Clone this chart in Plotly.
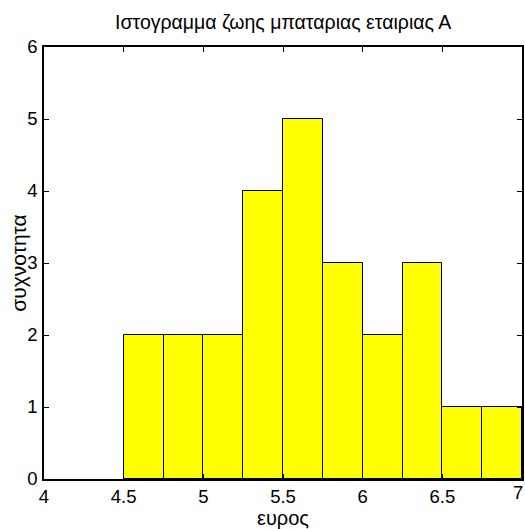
import plotly.graph_objects as go

bin_centers = [4.625, 4.875, 5.125, 5.375, 5.625, 5.875, 6.125, 6.375, 6.625, 6.875]
counts = [2, 2, 2, 4, 5, 3, 2, 3, 1, 1]
bin_width = 0.25
x_ticks = [4, 4.5, 5, 5.5, 6, 6.5, 7]
x_tick_text = ["4", "4.5", "5", "5.5", "6", "6.5", "7"]
y_ticks = [0, 1, 2, 3, 4, 5, 6]

FONT = "Liberation Sans, Arial"
TICK_SIZE = 18.5

fig = go.Figure(go.Bar(
    x=bin_centers, y=counts, width=bin_width,
    marker=dict(color="#ffff00", line=dict(color="black", width=1)),
))

axis_common = dict(showline=True, linecolor="black", linewidth=1.5, mirror="ticks",
                   ticks="inside", ticklen=5, tickcolor="black", tickwidth=1, showgrid=False,
                   zeroline=False, automargin=False,
                   tickfont=dict(family=FONT, size=TICK_SIZE, color="black"))

annotations = [
    dict(text="Ιστογραμμα ζωης μπαταριας εταιριας Α", xref="paper", yref="paper",
         x=0.50, y=1.058, xanchor="center", yanchor="middle", showarrow=False,
         font=dict(family=FONT, size=19.5, color="black")),
    dict(text="ευρος", xref="paper", yref="paper",
         x=0.50, y=-0.090, xanchor="center", yanchor="middle", showarrow=False,
         font=dict(family=FONT, size=20, color="black")),
    dict(text="συχνοτητα", xref="paper", yref="paper", textangle=-90,
         x=-0.055, y=0.5, xanchor="center", yanchor="middle", showarrow=False,
         font=dict(family=FONT, size=21, color="black")),
    # last x tick label (plotly drops it because it overflows the figure edge)
    dict(text=x_tick_text[-1], x=x_ticks[-1], xref="x", y=0, yref="paper",
         xanchor="right", yanchor="top", xshift=3, yshift=-1, showarrow=False,
         font=dict(family=FONT, size=TICK_SIZE, color="black")),
]

fig.update_layout(
    width=525, height=529,
    margin=dict(l=44, r=3, t=47, b=50),
    plot_bgcolor="white", paper_bgcolor="white",
    showlegend=False,
    xaxis=dict(range=[4, 7], tickvals=x_ticks, ticktext=x_tick_text, ticklabelstandoff=0,
               **axis_common),
    yaxis=dict(range=[0, 6], tickvals=y_ticks, ticklabelstandoff=1,
               **axis_common),
    bargap=0,
    annotations=annotations,
)

fig.write_html("out.html", config={"displayModeBar": False},
               post_script="document.body.style.margin='0';document.body.style.overflow='hidden';")
